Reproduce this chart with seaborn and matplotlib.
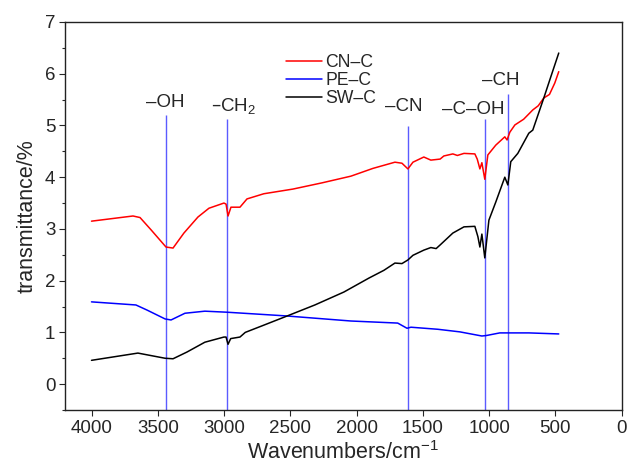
import numpy as np
import pandas as pd
import matplotlib
matplotlib.use("Agg")
import matplotlib.pyplot as plt
import seaborn as sns

# ---------------- data ----------------
x_cn = [4000, 3687, 3634, 3550, 3438, 3385, 3303, 3197, 3114, 3001, 2985, 2970, 2948, 2880,
        2827, 2700, 2481, 2262, 2043, 1877, 1711, 1658, 1613, 1575, 1493, 1440, 1370, 1342,
        1274, 1240, 1190, 1108, 1090, 1070, 1055, 1033, 1010, 950, 882, 865, 844, 806, 740,
        671, 630, 588, 545, 505, 475]
y_cn = [3.15, 3.25, 3.22, 2.98, 2.65, 2.63, 2.92, 3.23, 3.40, 3.50, 3.48, 3.25, 3.42, 3.42,
        3.58, 3.68, 3.77, 3.89, 4.02, 4.17, 4.29, 4.27, 4.16, 4.29, 4.39, 4.33, 4.35, 4.41,
        4.45, 4.42, 4.46, 4.45, 4.35, 4.16, 4.28, 3.96, 4.43, 4.62, 4.78, 4.72, 4.87, 5.01, 5.12,
        5.30, 5.38, 5.53, 5.60, 5.82, 6.04]

x_pe = [4000, 3665, 3580, 3445, 3400, 3295, 3145, 2978, 2541, 2043, 1690, 1620, 1590, 1387,
        1221, 1055, 1020, 920, 700, 475]
y_pe = [1.59, 1.53, 1.43, 1.26, 1.24, 1.37, 1.41, 1.39, 1.32, 1.22, 1.18, 1.08, 1.10, 1.06,
        1.01, 0.93, 0.94, 0.99, 0.99, 0.97]

x_sw = [4000, 3650, 3445, 3385, 3280, 3145, 3001, 2985, 2970, 2950, 2880, 2840, 2700, 2541,
        2315, 2096, 1907, 1794, 1711, 1658, 1613, 1575, 1493, 1440, 1400, 1370, 1274, 1190,
        1108, 1085, 1070, 1055, 1033, 1002, 950, 882, 859, 837, 784, 701, 671, 588, 535, 475]
y_sw = [0.46, 0.60, 0.50, 0.49, 0.62, 0.81, 0.91, 0.91, 0.77, 0.88, 0.91, 1.00, 1.14, 1.30,
        1.53, 1.78, 2.05, 2.20, 2.34, 2.33, 2.40, 2.49, 2.59, 2.64, 2.62, 2.69, 2.92, 3.04,
        3.05, 2.85, 2.65, 2.90, 2.44, 3.17, 3.52, 4.00, 3.85, 4.30, 4.46, 4.85, 4.91, 5.53,
        5.94, 6.40]

series_names = ["CN\u2013C", "PE\u2013C", "SW\u2013C"]
series_colors = ["#ff0000", "#0000ff", "#000000"]

peak_labels = ["\u2013OH", "\u2013CH$_2$", "\u2013CN", "\u2013C\u2013OH", "\u2013CH"]
peak_x = [3440, 2980, 1613, 1033, 860]
peak_top = [5.21, 5.13, 4.98, 5.13, 5.60]
label_x = [3446, 2925, 1643, 1123, 912]
label_y = [5.45, 5.38, 5.36, 5.30, 5.86]

# ---------------- build frame ----------------
frames = []
for name, xs, ys in zip(series_names, [x_cn, x_pe, x_sw], [y_cn, y_pe, y_sw]):
    frames.append(pd.DataFrame({"wn": xs, "t": ys, "series": name}))
df = pd.concat(frames, ignore_index=True)

sns.set_style("ticks")
plt.rcParams["font.family"] = ["Liberation Sans", "DejaVu Sans"]
plt.rcParams["mathtext.default"] = "regular"

fig = plt.figure(figsize=(6.28, 4.63), dpi=100)
ax = fig.add_axes([0.1035, 0.1145, 0.8865, 0.838])

# peak marker lines
ax.vlines(peak_x, -0.5, peak_top, colors="#5b5bff", linewidth=1.0, zorder=1)

sns.lineplot(data=df, x="wn", y="t", hue="series", palette=series_colors,
             hue_order=series_names, estimator=None, sort=False, linewidth=1.1, ax=ax, zorder=2)

for lab, lx, ly in zip(peak_labels, label_x, label_y):
    ax.text(lx, ly, lab, ha="center", va="center", fontsize=13.5)

ax.set_xlim(4200, 0)
ax.set_ylim(-0.5, 7)
ax.set_xticks([4000, 3500, 3000, 2500, 2000, 1500, 1000, 500, 0])
ax.set_yticks([0, 1, 2, 3, 4, 5, 6, 7])
ax.set_yticks(np.arange(-0.5, 7.0, 1.0), minor=True)
ax.tick_params(axis="both", labelsize=13.5, direction="out", length=4, width=0.8, pad=3)
ax.tick_params(axis="y", which="minor", length=2.5, width=0.8)
for s in ax.spines.values():
    s.set_visible(True)
    s.set_linewidth(1.0)
    s.set_color("#222222")

ax.set_xlabel("Wavenumbers/cm$^{\u22121}$", fontsize=15.5, labelpad=3)
ax.set_ylabel("transmittance/%", fontsize=15.5, labelpad=5)

ax.legend(frameon=False, loc="upper left", bbox_to_anchor=(0.385, 0.935), fontsize=12.7,
          handlelength=2.0, labelspacing=0.05, handletextpad=0.2, borderaxespad=0.0)

fig.savefig("out.png", dpi=100)
